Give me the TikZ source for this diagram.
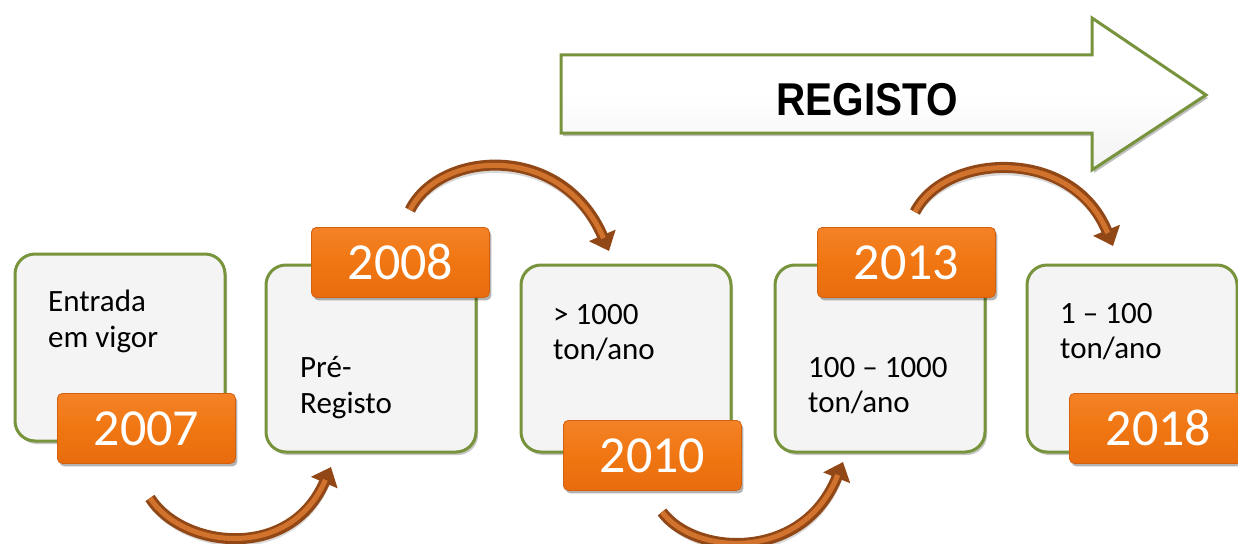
\documentclass[tikz,border=0pt]{standalone}
\usepackage{fontspec}
\setmainfont{Carlito}
\newfontfamily\arialfont{Liberation Sans}
\usetikzlibrary{shadows,arrows.meta}
\definecolor{boxgreen}{RGB}{119,147,60}
\definecolor{boxfill}{RGB}{244,244,244}
\definecolor{orangetop}{RGB}{244,130,38}
\definecolor{orangemid}{RGB}{240,118,18}
\definecolor{orangebot}{RGB}{232,108,14}
\definecolor{orangeedge}{RGB}{210,96,14}
\definecolor{browndark}{RGB}{145,72,22}
\definecolor{brownlight}{RGB}{210,115,45}
\begin{document}
\begin{tikzpicture}[x=1pt,y=-1pt,
  greenbox/.style={draw=boxgreen, line width=3pt, fill=boxfill, rounded corners=20pt,
    anchor=north west, inner sep=0pt, minimum width=210pt, minimum height=187pt,
    drop shadow={shadow xshift=2pt, shadow yshift=-3pt, opacity=0.22, fill=black}},
  yearbox/.style={draw=orangeedge, line width=0.8pt, rounded corners=5pt,
    top color=orangetop, bottom color=orangebot, middle color=orangemid,
    anchor=north west, inner sep=0pt, minimum width=178pt, minimum height=70pt,
    text=white, font=\fontsize{52}{60}\selectfont,
    drop shadow={shadow xshift=2pt, shadow yshift=-3pt, opacity=0.3, fill=black}},
  bodytext/.style={anchor=base west, inner sep=0pt, font=\fontsize{31}{36}\selectfont, text=black},
  tubeshadow/.style={draw=black, opacity=0.15, line width=11pt},
  tubeouter/.style={draw=browndark, line width=11pt, -{Triangle[width=28pt,length=17pt]}},
  tubeinner/.style={draw=brownlight, line width=5pt, shorten >=14pt, line cap=butt},
]
\useasboundingbox (0,0) rectangle (1238,543);

% big REGISTO arrow
\path[draw=boxgreen, line width=3pt, top color=white, bottom color=black!5, middle color=white,
  drop shadow={shadow xshift=2pt, shadow yshift=-3pt, opacity=0.25, fill=black}]
  (561,55) -- (1092,55) -- (1092,18) -- (1206,95) -- (1092,170) -- (1092,133) -- (561,133) -- cycle;
\node[font=\arialfont\bfseries\fontsize{46}{52}\selectfont, inner sep=0pt, xscale=0.88] (reg) at (867,100) {REGISTO};

% content boxes
\node[greenbox] (b1) at (13.5,252.5) {};
\node[greenbox] (b2) at (264.5,263.5) {};
\node[greenbox] (b3) at (519.5,263.5) {};
\node[greenbox] (b4) at (773.5,263.5) {};
\node[greenbox] (b5) at (1025.5,263.5) {};

% texts
\node[bodytext] (t1a) at (48,311) {Entrada};
\node[bodytext] (t1b) at (48,347) {em vigor};
\node[bodytext] (t2a) at (300,377) {Pré-};
\node[bodytext] (t2b) at (300,413) {Registo};
\node[bodytext] (t3a) at (553,324) {> 1000};
\node[bodytext] (t3b) at (553,359) {ton/ano};
\node[bodytext] (t4a) at (808,377) {100 – 1000};
\node[bodytext] (t4b) at (808,412) {ton/ano};
\node[bodytext] (t5a) at (1060,323) {1 – 100};
\node[bodytext] (t5b) at (1060,358) {ton/ano};

% year boxes
\node[yearbox] (y1) at (57,393) {2007};
\node[yearbox] (y2) at (311,227) {2008};
\node[yearbox] (y3) at (563,420) {2010};
\node[yearbox] (y4) at (817,227) {2013};
\node[yearbox] (y5) at (1069,393) {2018};

% curved arrows
\coordinate (a1s) at (150,498); \coordinate (a1e) at (331,467);
\coordinate (a2s) at (410,210); \coordinate (a2e) at (609,251);
\coordinate (a3s) at (662,512); \coordinate (a3e) at (843,462);
\coordinate (a4s) at (915,212); \coordinate (a4e) at (1113,246);

\foreach \s/\e/\ca/\cb in {a1s/a1e/{(182,548)}/{(290,562)}, a2s/a2e/{(440,150)}/{(562,142)},
  a3s/a3e/{(695,556)}/{(803,562)}, a4s/a4e/{(945,153)}/{(1072,146)}} {
  \draw[tubeshadow, shorten >=14pt, xshift=2pt, yshift=-3pt] (\s) .. controls \ca and \cb .. (\e);
  \draw[tubeouter] (\s) .. controls \ca and \cb .. (\e);
  \draw[tubeinner] (\s) .. controls \ca and \cb .. (\e);
}
\end{tikzpicture}
\end{document}
